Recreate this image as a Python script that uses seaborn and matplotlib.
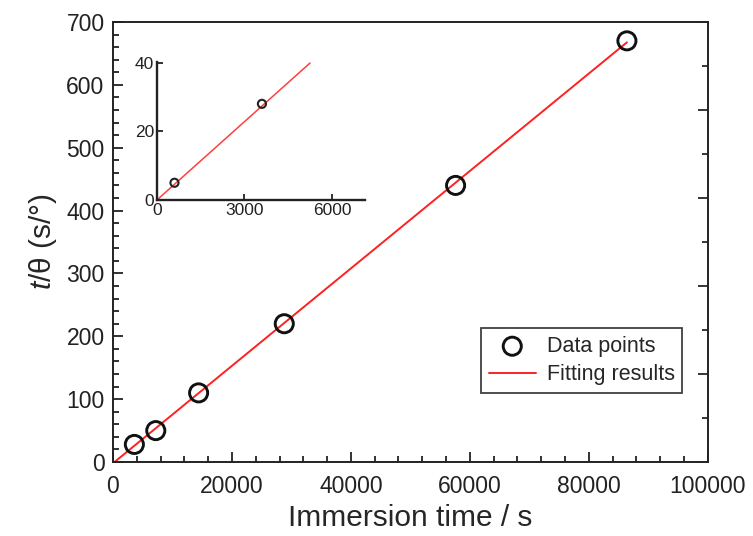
import numpy as np
import pandas as pd
import matplotlib
matplotlib.use("Agg")
import matplotlib.pyplot as plt
from matplotlib.ticker import MultipleLocator
import seaborn as sns

# immersion time (s) and t/theta (s/deg)
time_s = [3600, 7200, 14400, 28800, 57600, 86400]
t_theta = [28, 50, 110, 220, 440, 670]

# early-time points shown in the inset
inset_time = [600, 3600]
inset_t_theta = [5, 28]

# linear fit
slope = 0.00775
intercept = -2.0
fit_x = [0, 86400]
inset_slope = 0.0076
inset_fit_x = [0, 5250]

sns.set_style("ticks")
plt.rcParams["font.family"] = ["Liberation Sans", "DejaVu Sans"]
plt.rcParams["mathtext.fontset"] = "custom"
plt.rcParams["mathtext.it"] = "Liberation Sans:italic"

df = pd.DataFrame({"time": time_s, "tt": t_theta})
fit = pd.DataFrame({"time": fit_x, "tt": [slope * x + intercept for x in fit_x]})

fig = plt.figure(figsize=(7.53, 5.36), dpi=100)
ax = fig.add_axes([0.150, 0.138, 0.790, 0.821])

sns.lineplot(data=fit, x="time", y="tt", ax=ax, color="#ff2020", lw=1.4,
             label="Fitting results", zorder=2)
sns.scatterplot(data=df, x="time", y="tt", ax=ax, marker="o", s=170,
                facecolor="none", edgecolor="#111111", linewidth=2.1,
                label="Data points", zorder=3)

ax.set_xlim(0, 100000)
ax.set_ylim(0, 700)
ax.xaxis.set_major_locator(MultipleLocator(20000))
ax.xaxis.set_minor_locator(MultipleLocator(4000))
ax.yaxis.set_major_locator(MultipleLocator(100))
ax.yaxis.set_minor_locator(MultipleLocator(20))
ax.tick_params(which="both", direction="in", top=False, right=False,
               labelsize=16.5, width=1.3, colors="#222222")
ax.tick_params(which="major", length=7)
ax.tick_params(which="minor", length=4)
ax.tick_params(axis="x", which="major", pad=9)
ax.tick_params(axis="y", which="major", pad=6)
for sp in ax.spines.values():
    sp.set_linewidth(1.4)
    sp.set_color("#222222")

ax.set_xlabel("Immersion time / s", fontsize=21.5, labelpad=5)
ax.set_ylabel("$t$/θ (s/°)", fontsize=21.5, labelpad=5)

# right-hand ticks
ax2 = ax.twinx()
ax2.set_ylim(0, 700)
ax2.yaxis.set_major_locator(MultipleLocator(140))
ax2.yaxis.set_minor_locator(MultipleLocator(70))
ax2.tick_params(which="both", direction="in", labelright=False, width=1.3)
ax2.tick_params(which="major", length=7)
ax2.tick_params(which="minor", length=4)
for sp in ax2.spines.values():
    sp.set_visible(False)

handles, labels = ax.get_legend_handles_labels()
order = [labels.index("Data points"), labels.index("Fitting results")]
leg = ax.legend([handles[i] for i in order], [labels[i] for i in order],
                loc="lower right", bbox_to_anchor=(0.957, 0.157), fontsize=15.5,
                frameon=True, fancybox=False, edgecolor="#111111",
                borderaxespad=0, borderpad=0.35, handlelength=2.2,
                handletextpad=0.5, labelspacing=0.35)
leg.get_frame().set_linewidth(1.3)

# inset
ins = fig.add_axes([0.2085, 0.627, 0.276, 0.258])
idf = pd.DataFrame({"time": inset_time, "tt": inset_t_theta})
ifit = pd.DataFrame({"time": inset_fit_x,
                     "tt": [inset_slope * x for x in inset_fit_x]})
sns.lineplot(data=ifit, x="time", y="tt", ax=ins, color="#ff4040", lw=1.1)
sns.scatterplot(data=idf, x="time", y="tt", ax=ins, marker="o", s=34,
                facecolor="none", edgecolor="#222222", linewidth=1.5, zorder=3)
ins.set_xlim(0, 7130)
ins.set_ylim(0, 40.3)
ins.set_xticks([0, 3000, 6000])
ins.set_yticks([0, 20, 40])
ins.set_xlabel("")
ins.set_ylabel("")
ins.set_facecolor("none")
ins.tick_params(direction="in", length=4, width=1.3, labelsize=12.5,
                pad=2, colors="#222222")
sns.despine(ax=ins)
for side in ["left", "bottom"]:
    ins.spines[side].set_linewidth(1.7)
    ins.spines[side].set_color("#222222")

fig.savefig("out.png", dpi=100)
